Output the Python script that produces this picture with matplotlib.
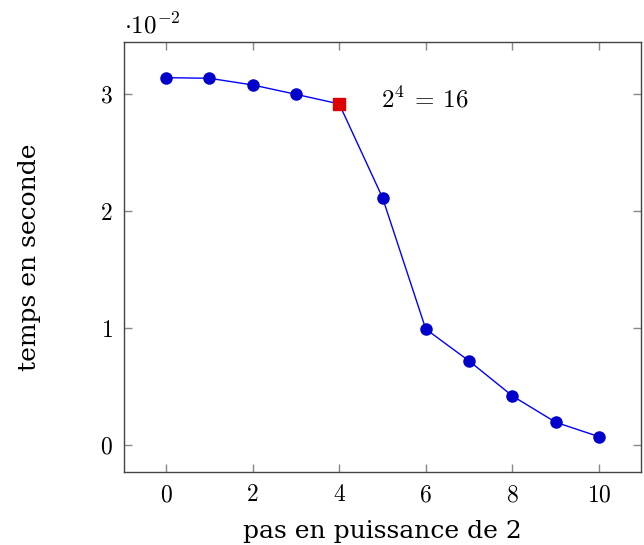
import matplotlib.pyplot as plt
from matplotlib.ticker import FuncFormatter

plt.rcParams['mathtext.fontset'] = 'cm'
plt.rcParams['font.family'] = ['DejaVu Serif']

# données mesurées : pas (puissance de 2) et temps en seconde
pas = [0, 1, 2, 3, 4, 5, 6, 7, 8, 9, 10]
temps = [0.03139, 0.03134, 0.03077, 0.02997, 0.02915, 0.02114,
         0.0099, 0.00718, 0.00419, 0.00194, 0.00071]
pas_opt = 4
x_ticks = [0, 2, 4, 6, 8, 10]
y_ticks = [0, 0.01, 0.02, 0.03]

fig = plt.figure(figsize=(6.44, 5.45), dpi=100)
ax = fig.add_axes([124/644, 1 - 472/545, (641-124)/644, (472-42)/545])

ax.plot(pas, temps, color='#0000ff', lw=1, marker='o', ms=8,
        mfc='#0000cc', mec='#0000cc', zorder=2)
i = pas.index(pas_opt)
ax.plot([pas[i]], [temps[i]], 's', ms=8, color='#dd0000', zorder=3)
ax.text(4.97, temps[i] + 0.0004, r'$2^4\:=\:16$', fontsize=18, va='center', ha='left')

ax.set_xlim(-0.97, 10.97)
ax.set_ylim(-0.00231, 0.03444)
ax.set_xticks(x_ticks)
ax.set_yticks(y_ticks)
ax.xaxis.set_major_formatter(FuncFormatter(lambda v, p: r'$%d$' % round(v)))
ax.yaxis.set_major_formatter(FuncFormatter(lambda v, p: r'$%d$' % round(v * 100)))
ax.tick_params(direction='in', length=6, color='#888888', labelsize=17,
               top=True, right=True, width=1, pad=8)
for s in ax.spines.values():
    s.set_color('#444444')
    s.set_linewidth(1)

ax.text(0.0, 1.008, r'$\cdot 10^{-2}$', transform=ax.transAxes,
        fontsize=18, ha='left', va='bottom')

ax.set_xlabel('pas en puissance de 2', fontsize=18, labelpad=10)
ax.set_ylabel('temps en seconde', fontsize=18)
ax.yaxis.set_label_coords(-0.16, 0.5)

fig.savefig('out.png', dpi=100)
